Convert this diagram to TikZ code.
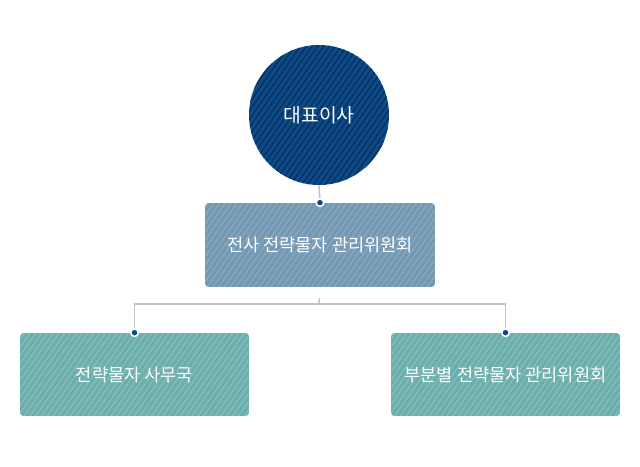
\documentclass[tikz,border=0pt]{standalone}
\usepackage{fontspec}
\setmainfont{Noto Sans CJK KR}
\usepackage{tikz}
\usetikzlibrary{patterns.meta,positioning}
\definecolor{ceoblue}{HTML}{0C4A88}
\definecolor{ceostripe}{HTML}{07315F}
\definecolor{steel}{HTML}{7599B3}
\definecolor{steelstripe}{HTML}{90AEC4}
\definecolor{teal}{HTML}{6BAEAC}
\definecolor{tealstripe}{HTML}{8CC3C1}
\definecolor{linkgray}{HTML}{C2C2C2}
\definecolor{dotblue}{HTML}{0D4A8A}
\tikzset{
  orgbox/.style={rectangle,rounded corners=2pt,text=white,font=\fontsize{10}{12}\selectfont,inner sep=0pt},
  ceonode/.style={circle,fill=ceoblue,
    postaction={pattern={Lines[angle=55,distance=2.7pt,line width=0.8pt]},pattern color=ceostripe},
    minimum size=2.8cm,text=white,font=\fontsize{11}{13}\selectfont},
  steelbox/.style={orgbox,fill=steel,
    postaction={pattern={Lines[angle=55,distance=2.7pt,line width=0.5pt]},pattern color=steelstripe},
    minimum width=4.6cm,minimum height=1.68cm},
  tealbox/.style={orgbox,fill=teal,
    postaction={pattern={Lines[angle=55,distance=2.7pt,line width=0.5pt]},pattern color=tealstripe},
    minimum width=4.58cm,minimum height=1.66cm},
  joint/.style={circle,fill=dotblue,draw=white,line width=0.9pt,inner sep=0pt,minimum size=0.15cm},
  link/.style={draw=linkgray,line width=0.85pt}
}
\begin{document}
\begin{tikzpicture}[x=0.02cm,y=-0.02cm]
\useasboundingbox (0,0) rectangle (640,467);
% nodes
\node[ceonode] (ceo) at (319,115) {대표이사};
\node[steelbox] (committee) at (320,245) {전사 전략물자 관리위원회};
\node[tealbox] (office) at (134.5,374.5) {전략물자 사무국};
\node[tealbox] (division) at (505.5,374.5) {부분별 전략물자 관리위원회};
% connectors
\coordinate (hub) at (319,304);
\draw[link] (ceo.south) -- (committee.north);
\draw[link,shorten <=6pt] (committee.south) -- (hub);
\draw[link] (hub) -| (office.north);
\draw[link] (hub) -| (division.north);
\node[joint] (jtop) at (committee.north) {};
\node[joint] (jleft) at (office.north) {};
\node[joint] (jright) at (division.north) {};
\end{tikzpicture}
\end{document}
